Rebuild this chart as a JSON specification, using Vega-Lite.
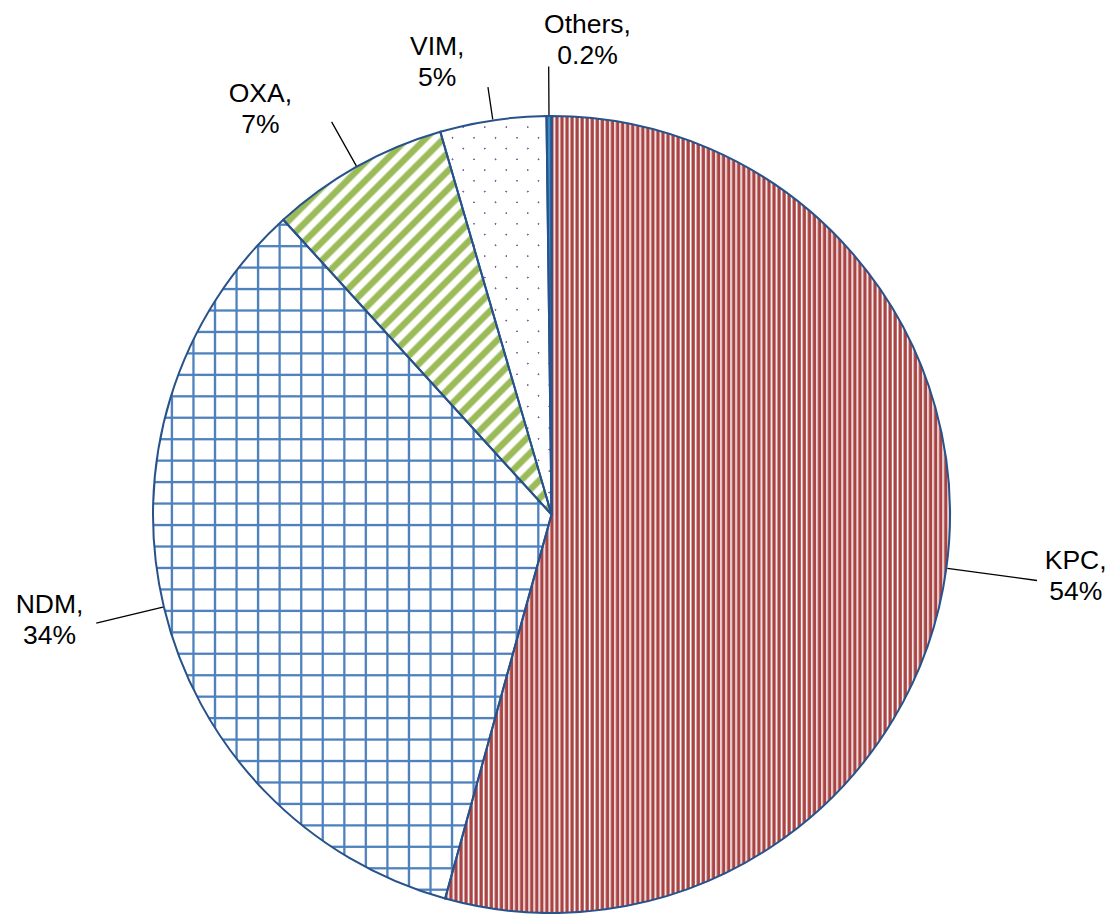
{
"$schema": "https://vega.github.io/schema/vega-lite/v6.json",
"width": 1103, "height": 799,
"padding": {"left": 0, "top": 115, "right": 10, "bottom": 0},
"autosize": {"type": "none"},
"background": "white",
"config": {"view": {"stroke": null}},
"data": {"values": [
{"type": "KPC", "value": 54.3, "order": 1, "label": "KPC,\n54%"},
{"type": "NDM", "value": 33.95, "order": 2, "label": "NDM,\n34%"},
{"type": "OXA", "value": 7.25, "order": 3, "label": "OXA,\n7%"},
{"type": "VIM", "value": 4.3, "order": 4, "label": "VIM,\n5%"},
{"type": "Others", "value": 0.2, "order": 5, "label": "Others,\n0.2%"}
]},
"transform": [
{"stack": "value", "groupby": [], "sort": [{"field": "order", "order": "ascending"}], "as": ["v0", "v1"]},
{"calculate": "(datum.v0 + datum.v1) / 2", "as": "mid"}
],
"layer": [
{"transform": [{"filter": "datum.type === 'KPC'"}],
 "mark": {"type": "arc", "radius": 398.5, "fill": {"gradient": "linear", "x1": 0, "y1": 0, "x2": 1, "y2": 0, "stops": [
{"offset":0,"color":"#a44"},{"offset":0.0035,"color":"#a44"},{"offset":0.006,"color":"#fff"},
{"offset":0.01,"color":"#a44"},{"offset":0.0135,"color":"#a44"},{"offset":0.016,"color":"#fff"},
{"offset":0.02,"color":"#a44"},{"offset":0.0235,"color":"#a44"},{"offset":0.026,"color":"#fff"},
{"offset":0.03,"color":"#a44"},{"offset":0.0335,"color":"#a44"},{"offset":0.036,"color":"#fff"},
{"offset":0.04,"color":"#a44"},{"offset":0.0435,"color":"#a44"},{"offset":0.046,"color":"#fff"},
{"offset":0.05,"color":"#a44"},{"offset":0.0535,"color":"#a44"},{"offset":0.056,"color":"#fff"},
{"offset":0.06,"color":"#a44"},{"offset":0.0635,"color":"#a44"},{"offset":0.066,"color":"#fff"},
{"offset":0.07,"color":"#a44"},{"offset":0.0735,"color":"#a44"},{"offset":0.076,"color":"#fff"},
{"offset":0.08,"color":"#a44"},{"offset":0.0835,"color":"#a44"},{"offset":0.086,"color":"#fff"},
{"offset":0.09,"color":"#a44"},{"offset":0.0935,"color":"#a44"},{"offset":0.096,"color":"#fff"},
{"offset":0.1,"color":"#a44"},{"offset":0.1035,"color":"#a44"},{"offset":0.106,"color":"#fff"},
{"offset":0.11,"color":"#a44"},{"offset":0.1135,"color":"#a44"},{"offset":0.116,"color":"#fff"},
{"offset":0.12,"color":"#a44"},{"offset":0.1235,"color":"#a44"},{"offset":0.126,"color":"#fff"},
{"offset":0.13,"color":"#a44"},{"offset":0.1335,"color":"#a44"},{"offset":0.136,"color":"#fff"},
{"offset":0.14,"color":"#a44"},{"offset":0.1435,"color":"#a44"},{"offset":0.146,"color":"#fff"},
{"offset":0.15,"color":"#a44"},{"offset":0.1535,"color":"#a44"},{"offset":0.156,"color":"#fff"},
{"offset":0.16,"color":"#a44"},{"offset":0.1635,"color":"#a44"},{"offset":0.166,"color":"#fff"},
{"offset":0.17,"color":"#a44"},{"offset":0.1735,"color":"#a44"},{"offset":0.176,"color":"#fff"},
{"offset":0.18,"color":"#a44"},{"offset":0.1835,"color":"#a44"},{"offset":0.186,"color":"#fff"},
{"offset":0.19,"color":"#a44"},{"offset":0.1935,"color":"#a44"},{"offset":0.196,"color":"#fff"},
{"offset":0.2,"color":"#a44"},{"offset":0.2035,"color":"#a44"},{"offset":0.206,"color":"#fff"},
{"offset":0.21,"color":"#a44"},{"offset":0.2135,"color":"#a44"},{"offset":0.216,"color":"#fff"},
{"offset":0.22,"color":"#a44"},{"offset":0.2235,"color":"#a44"},{"offset":0.226,"color":"#fff"},
{"offset":0.23,"color":"#a44"},{"offset":0.2335,"color":"#a44"},{"offset":0.236,"color":"#fff"},
{"offset":0.24,"color":"#a44"},{"offset":0.2435,"color":"#a44"},{"offset":0.246,"color":"#fff"},
{"offset":0.25,"color":"#a44"},{"offset":0.2535,"color":"#a44"},{"offset":0.256,"color":"#fff"},
{"offset":0.26,"color":"#a44"},{"offset":0.2635,"color":"#a44"},{"offset":0.266,"color":"#fff"},
{"offset":0.27,"color":"#a44"},{"offset":0.2735,"color":"#a44"},{"offset":0.276,"color":"#fff"},
{"offset":0.28,"color":"#a44"},{"offset":0.2835,"color":"#a44"},{"offset":0.286,"color":"#fff"},
{"offset":0.29,"color":"#a44"},{"offset":0.2935,"color":"#a44"},{"offset":0.296,"color":"#fff"},
{"offset":0.3,"color":"#a44"},{"offset":0.3035,"color":"#a44"},{"offset":0.306,"color":"#fff"},
{"offset":0.31,"color":"#a44"},{"offset":0.3135,"color":"#a44"},{"offset":0.316,"color":"#fff"},
{"offset":0.32,"color":"#a44"},{"offset":0.3235,"color":"#a44"},{"offset":0.326,"color":"#fff"},
{"offset":0.33,"color":"#a44"},{"offset":0.3335,"color":"#a44"},{"offset":0.336,"color":"#fff"},
{"offset":0.34,"color":"#a44"},{"offset":0.3435,"color":"#a44"},{"offset":0.346,"color":"#fff"},
{"offset":0.35,"color":"#a44"},{"offset":0.3535,"color":"#a44"},{"offset":0.356,"color":"#fff"},
{"offset":0.36,"color":"#a44"},{"offset":0.3635,"color":"#a44"},{"offset":0.366,"color":"#fff"},
{"offset":0.37,"color":"#a44"},{"offset":0.3735,"color":"#a44"},{"offset":0.376,"color":"#fff"},
{"offset":0.38,"color":"#a44"},{"offset":0.3835,"color":"#a44"},{"offset":0.386,"color":"#fff"},
{"offset":0.39,"color":"#a44"},{"offset":0.3935,"color":"#a44"},{"offset":0.396,"color":"#fff"},
{"offset":0.4,"color":"#a44"},{"offset":0.4035,"color":"#a44"},{"offset":0.406,"color":"#fff"},
{"offset":0.41,"color":"#a44"},{"offset":0.4135,"color":"#a44"},{"offset":0.416,"color":"#fff"},
{"offset":0.42,"color":"#a44"},{"offset":0.4235,"color":"#a44"},{"offset":0.426,"color":"#fff"},
{"offset":0.43,"color":"#a44"},{"offset":0.4335,"color":"#a44"},{"offset":0.436,"color":"#fff"},
{"offset":0.44,"color":"#a44"},{"offset":0.4435,"color":"#a44"},{"offset":0.446,"color":"#fff"},
{"offset":0.45,"color":"#a44"},{"offset":0.4535,"color":"#a44"},{"offset":0.456,"color":"#fff"},
{"offset":0.46,"color":"#a44"},{"offset":0.4635,"color":"#a44"},{"offset":0.466,"color":"#fff"},
{"offset":0.47,"color":"#a44"},{"offset":0.4735,"color":"#a44"},{"offset":0.476,"color":"#fff"},
{"offset":0.48,"color":"#a44"},{"offset":0.4835,"color":"#a44"},{"offset":0.486,"color":"#fff"},
{"offset":0.49,"color":"#a44"},{"offset":0.4935,"color":"#a44"},{"offset":0.496,"color":"#fff"},
{"offset":0.5,"color":"#a44"},{"offset":0.5035,"color":"#a44"},{"offset":0.506,"color":"#fff"},
{"offset":0.51,"color":"#a44"},{"offset":0.5135,"color":"#a44"},{"offset":0.516,"color":"#fff"},
{"offset":0.52,"color":"#a44"},{"offset":0.5235,"color":"#a44"},{"offset":0.526,"color":"#fff"},
{"offset":0.53,"color":"#a44"},{"offset":0.5335,"color":"#a44"},{"offset":0.536,"color":"#fff"},
{"offset":0.54,"color":"#a44"},{"offset":0.5435,"color":"#a44"},{"offset":0.546,"color":"#fff"},
{"offset":0.55,"color":"#a44"},{"offset":0.5535,"color":"#a44"},{"offset":0.556,"color":"#fff"},
{"offset":0.56,"color":"#a44"},{"offset":0.5635,"color":"#a44"},{"offset":0.566,"color":"#fff"},
{"offset":0.57,"color":"#a44"},{"offset":0.5735,"color":"#a44"},{"offset":0.576,"color":"#fff"},
{"offset":0.58,"color":"#a44"},{"offset":0.5835,"color":"#a44"},{"offset":0.586,"color":"#fff"},
{"offset":0.59,"color":"#a44"},{"offset":0.5935,"color":"#a44"},{"offset":0.596,"color":"#fff"},
{"offset":0.6,"color":"#a44"},{"offset":0.6035,"color":"#a44"},{"offset":0.606,"color":"#fff"},
{"offset":0.61,"color":"#a44"},{"offset":0.6135,"color":"#a44"},{"offset":0.616,"color":"#fff"},
{"offset":0.62,"color":"#a44"},{"offset":0.6235,"color":"#a44"},{"offset":0.626,"color":"#fff"},
{"offset":0.63,"color":"#a44"},{"offset":0.6335,"color":"#a44"},{"offset":0.636,"color":"#fff"},
{"offset":0.64,"color":"#a44"},{"offset":0.6435,"color":"#a44"},{"offset":0.646,"color":"#fff"},
{"offset":0.65,"color":"#a44"},{"offset":0.6535,"color":"#a44"},{"offset":0.656,"color":"#fff"},
{"offset":0.66,"color":"#a44"},{"offset":0.6635,"color":"#a44"},{"offset":0.666,"color":"#fff"},
{"offset":0.67,"color":"#a44"},{"offset":0.6735,"color":"#a44"},{"offset":0.676,"color":"#fff"},
{"offset":0.68,"color":"#a44"},{"offset":0.6835,"color":"#a44"},{"offset":0.686,"color":"#fff"},
{"offset":0.69,"color":"#a44"},{"offset":0.6935,"color":"#a44"},{"offset":0.696,"color":"#fff"},
{"offset":0.7,"color":"#a44"},{"offset":0.7035,"color":"#a44"},{"offset":0.706,"color":"#fff"},
{"offset":0.71,"color":"#a44"},{"offset":0.7135,"color":"#a44"},{"offset":0.716,"color":"#fff"},
{"offset":0.72,"color":"#a44"},{"offset":0.7235,"color":"#a44"},{"offset":0.726,"color":"#fff"},
{"offset":0.73,"color":"#a44"},{"offset":0.7335,"color":"#a44"},{"offset":0.736,"color":"#fff"},
{"offset":0.74,"color":"#a44"},{"offset":0.7435,"color":"#a44"},{"offset":0.746,"color":"#fff"},
{"offset":0.75,"color":"#a44"},{"offset":0.7535,"color":"#a44"},{"offset":0.756,"color":"#fff"},
{"offset":0.76,"color":"#a44"},{"offset":0.7635,"color":"#a44"},{"offset":0.766,"color":"#fff"},
{"offset":0.77,"color":"#a44"},{"offset":0.7735,"color":"#a44"},{"offset":0.776,"color":"#fff"},
{"offset":0.78,"color":"#a44"},{"offset":0.7835,"color":"#a44"},{"offset":0.786,"color":"#fff"},
{"offset":0.79,"color":"#a44"},{"offset":0.7935,"color":"#a44"},{"offset":0.796,"color":"#fff"},
{"offset":0.8,"color":"#a44"},{"offset":0.8035,"color":"#a44"},{"offset":0.806,"color":"#fff"},
{"offset":0.81,"color":"#a44"},{"offset":0.8135,"color":"#a44"},{"offset":0.816,"color":"#fff"},
{"offset":0.82,"color":"#a44"},{"offset":0.8235,"color":"#a44"},{"offset":0.826,"color":"#fff"},
{"offset":0.83,"color":"#a44"},{"offset":0.8335,"color":"#a44"},{"offset":0.836,"color":"#fff"},
{"offset":0.84,"color":"#a44"},{"offset":0.8435,"color":"#a44"},{"offset":0.846,"color":"#fff"},
{"offset":0.85,"color":"#a44"},{"offset":0.8535,"color":"#a44"},{"offset":0.856,"color":"#fff"},
{"offset":0.86,"color":"#a44"},{"offset":0.8635,"color":"#a44"},{"offset":0.866,"color":"#fff"},
{"offset":0.87,"color":"#a44"},{"offset":0.8735,"color":"#a44"},{"offset":0.876,"color":"#fff"},
{"offset":0.88,"color":"#a44"},{"offset":0.8835,"color":"#a44"},{"offset":0.886,"color":"#fff"},
{"offset":0.89,"color":"#a44"},{"offset":0.8935,"color":"#a44"},{"offset":0.896,"color":"#fff"},
{"offset":0.9,"color":"#a44"},{"offset":0.9035,"color":"#a44"},{"offset":0.906,"color":"#fff"},
{"offset":0.91,"color":"#a44"},{"offset":0.9135,"color":"#a44"},{"offset":0.916,"color":"#fff"},
{"offset":0.92,"color":"#a44"},{"offset":0.9235,"color":"#a44"},{"offset":0.926,"color":"#fff"},
{"offset":0.93,"color":"#a44"},{"offset":0.9335,"color":"#a44"},{"offset":0.936,"color":"#fff"},
{"offset":0.94,"color":"#a44"},{"offset":0.9435,"color":"#a44"},{"offset":0.946,"color":"#fff"},
{"offset":0.95,"color":"#a44"},{"offset":0.9535,"color":"#a44"},{"offset":0.956,"color":"#fff"},
{"offset":0.96,"color":"#a44"},{"offset":0.9635,"color":"#a44"},{"offset":0.966,"color":"#fff"},
{"offset":0.97,"color":"#a44"},{"offset":0.9735,"color":"#a44"},{"offset":0.976,"color":"#fff"},
{"offset":0.98,"color":"#a44"},{"offset":0.9835,"color":"#a44"},{"offset":0.986,"color":"#fff"},
{"offset":0.99,"color":"#a44"},{"offset":0.9935,"color":"#a44"},{"offset":0.996,"color":"#fff"},
{"offset":1,"color":"#a44"}
 ]}},
 "encoding": {"theta": {"field": "v0", "type": "quantitative", "scale": {"domain": [0, 100]}}, "theta2": {"field": "v1"}}},
{"transform": [{"filter": "datum.type === 'NDM'"}],
 "mark": {"type": "arc", "radius": 398.5, "fill": {"gradient": "linear", "x1": 0, "y1": 0, "x2": 1, "y2": 0, "stops": [
{"offset":0,"color":"#fff"},
{"offset":0.0431,"color":"#fff"},{"offset":0.0459,"color":"#4f81bd"},{"offset":0.0489,"color":"#4f81bd"},{"offset":0.0517,"color":"#fff"},
{"offset":0.0972,"color":"#fff"},{"offset":0.1000,"color":"#4f81bd"},{"offset":0.1030,"color":"#4f81bd"},{"offset":0.1058,"color":"#fff"},
{"offset":0.1513,"color":"#fff"},{"offset":0.1541,"color":"#4f81bd"},{"offset":0.1571,"color":"#4f81bd"},{"offset":0.1599,"color":"#fff"},
{"offset":0.2054,"color":"#fff"},{"offset":0.2082,"color":"#4f81bd"},{"offset":0.2112,"color":"#4f81bd"},{"offset":0.2140,"color":"#fff"},
{"offset":0.2594,"color":"#fff"},{"offset":0.2622,"color":"#4f81bd"},{"offset":0.2652,"color":"#4f81bd"},{"offset":0.2680,"color":"#fff"},
{"offset":0.3135,"color":"#fff"},{"offset":0.3163,"color":"#4f81bd"},{"offset":0.3193,"color":"#4f81bd"},{"offset":0.3221,"color":"#fff"},
{"offset":0.3676,"color":"#fff"},{"offset":0.3704,"color":"#4f81bd"},{"offset":0.3734,"color":"#4f81bd"},{"offset":0.3762,"color":"#fff"},
{"offset":0.4217,"color":"#fff"},{"offset":0.4245,"color":"#4f81bd"},{"offset":0.4275,"color":"#4f81bd"},{"offset":0.4303,"color":"#fff"},
{"offset":0.4758,"color":"#fff"},{"offset":0.4786,"color":"#4f81bd"},{"offset":0.4816,"color":"#4f81bd"},{"offset":0.4844,"color":"#fff"},
{"offset":0.5298,"color":"#fff"},{"offset":0.5326,"color":"#4f81bd"},{"offset":0.5356,"color":"#4f81bd"},{"offset":0.5384,"color":"#fff"},
{"offset":0.5839,"color":"#fff"},{"offset":0.5867,"color":"#4f81bd"},{"offset":0.5897,"color":"#4f81bd"},{"offset":0.5925,"color":"#fff"},
{"offset":0.6380,"color":"#fff"},{"offset":0.6408,"color":"#4f81bd"},{"offset":0.6438,"color":"#4f81bd"},{"offset":0.6466,"color":"#fff"},
{"offset":0.6921,"color":"#fff"},{"offset":0.6949,"color":"#4f81bd"},{"offset":0.6979,"color":"#4f81bd"},{"offset":0.7007,"color":"#fff"},
{"offset":0.7461,"color":"#fff"},{"offset":0.7489,"color":"#4f81bd"},{"offset":0.7519,"color":"#4f81bd"},{"offset":0.7547,"color":"#fff"},
{"offset":0.8002,"color":"#fff"},{"offset":0.8030,"color":"#4f81bd"},{"offset":0.8060,"color":"#4f81bd"},{"offset":0.8088,"color":"#fff"},
{"offset":0.8543,"color":"#fff"},{"offset":0.8571,"color":"#4f81bd"},{"offset":0.8601,"color":"#4f81bd"},{"offset":0.8629,"color":"#fff"},
{"offset":0.9084,"color":"#fff"},{"offset":0.9112,"color":"#4f81bd"},{"offset":0.9142,"color":"#4f81bd"},{"offset":0.9170,"color":"#fff"},
{"offset":0.9625,"color":"#fff"},{"offset":0.9653,"color":"#4f81bd"},{"offset":0.9683,"color":"#4f81bd"},{"offset":0.9711,"color":"#fff"},
{"offset":1,"color":"#fff"}
 ]}},
 "encoding": {"theta": {"field": "v0", "type": "quantitative", "scale": {"domain": [0, 100]}}, "theta2": {"field": "v1"}}},
{"transform": [{"filter": "datum.type === 'NDM'"}],
 "mark": {"type": "arc", "radius": 398.5, "fill": {"gradient": "linear", "x1": 0, "y1": 0, "x2": 0, "y2": 1, "stops": [
{"offset":0,"color":"rgba(79,129,189,0)"},
{"offset":0.0048,"color":"rgba(79,129,189,0)"},{"offset":0.0064,"color":"#4f81bd"},{"offset":0.0082,"color":"#4f81bd"},{"offset":0.0098,"color":"rgba(79,129,189,0)"},
{"offset":0.0364,"color":"rgba(79,129,189,0)"},{"offset":0.0380,"color":"#4f81bd"},{"offset":0.0398,"color":"#4f81bd"},{"offset":0.0414,"color":"rgba(79,129,189,0)"},
{"offset":0.0680,"color":"rgba(79,129,189,0)"},{"offset":0.0696,"color":"#4f81bd"},{"offset":0.0714,"color":"#4f81bd"},{"offset":0.0730,"color":"rgba(79,129,189,0)"},
{"offset":0.0996,"color":"rgba(79,129,189,0)"},{"offset":0.1012,"color":"#4f81bd"},{"offset":0.1030,"color":"#4f81bd"},{"offset":0.1046,"color":"rgba(79,129,189,0)"},
{"offset":0.1312,"color":"rgba(79,129,189,0)"},{"offset":0.1328,"color":"#4f81bd"},{"offset":0.1346,"color":"#4f81bd"},{"offset":0.1362,"color":"rgba(79,129,189,0)"},
{"offset":0.1628,"color":"rgba(79,129,189,0)"},{"offset":0.1644,"color":"#4f81bd"},{"offset":0.1662,"color":"#4f81bd"},{"offset":0.1678,"color":"rgba(79,129,189,0)"},
{"offset":0.1944,"color":"rgba(79,129,189,0)"},{"offset":0.1960,"color":"#4f81bd"},{"offset":0.1978,"color":"#4f81bd"},{"offset":0.1994,"color":"rgba(79,129,189,0)"},
{"offset":0.2260,"color":"rgba(79,129,189,0)"},{"offset":0.2276,"color":"#4f81bd"},{"offset":0.2294,"color":"#4f81bd"},{"offset":0.2310,"color":"rgba(79,129,189,0)"},
{"offset":0.2576,"color":"rgba(79,129,189,0)"},{"offset":0.2592,"color":"#4f81bd"},{"offset":0.2610,"color":"#4f81bd"},{"offset":0.2626,"color":"rgba(79,129,189,0)"},
{"offset":0.2892,"color":"rgba(79,129,189,0)"},{"offset":0.2908,"color":"#4f81bd"},{"offset":0.2926,"color":"#4f81bd"},{"offset":0.2942,"color":"rgba(79,129,189,0)"},
{"offset":0.3208,"color":"rgba(79,129,189,0)"},{"offset":0.3224,"color":"#4f81bd"},{"offset":0.3242,"color":"#4f81bd"},{"offset":0.3258,"color":"rgba(79,129,189,0)"},
{"offset":0.3524,"color":"rgba(79,129,189,0)"},{"offset":0.3540,"color":"#4f81bd"},{"offset":0.3558,"color":"#4f81bd"},{"offset":0.3574,"color":"rgba(79,129,189,0)"},
{"offset":0.3840,"color":"rgba(79,129,189,0)"},{"offset":0.3856,"color":"#4f81bd"},{"offset":0.3874,"color":"#4f81bd"},{"offset":0.3890,"color":"rgba(79,129,189,0)"},
{"offset":0.4156,"color":"rgba(79,129,189,0)"},{"offset":0.4172,"color":"#4f81bd"},{"offset":0.4190,"color":"#4f81bd"},{"offset":0.4206,"color":"rgba(79,129,189,0)"},
{"offset":0.4473,"color":"rgba(79,129,189,0)"},{"offset":0.4489,"color":"#4f81bd"},{"offset":0.4507,"color":"#4f81bd"},{"offset":0.4523,"color":"rgba(79,129,189,0)"},
{"offset":0.4789,"color":"rgba(79,129,189,0)"},{"offset":0.4805,"color":"#4f81bd"},{"offset":0.4823,"color":"#4f81bd"},{"offset":0.4839,"color":"rgba(79,129,189,0)"},
{"offset":0.5105,"color":"rgba(79,129,189,0)"},{"offset":0.5121,"color":"#4f81bd"},{"offset":0.5139,"color":"#4f81bd"},{"offset":0.5155,"color":"rgba(79,129,189,0)"},
{"offset":0.5421,"color":"rgba(79,129,189,0)"},{"offset":0.5437,"color":"#4f81bd"},{"offset":0.5455,"color":"#4f81bd"},{"offset":0.5471,"color":"rgba(79,129,189,0)"},
{"offset":0.5737,"color":"rgba(79,129,189,0)"},{"offset":0.5753,"color":"#4f81bd"},{"offset":0.5771,"color":"#4f81bd"},{"offset":0.5787,"color":"rgba(79,129,189,0)"},
{"offset":0.6053,"color":"rgba(79,129,189,0)"},{"offset":0.6069,"color":"#4f81bd"},{"offset":0.6087,"color":"#4f81bd"},{"offset":0.6103,"color":"rgba(79,129,189,0)"},
{"offset":0.6369,"color":"rgba(79,129,189,0)"},{"offset":0.6385,"color":"#4f81bd"},{"offset":0.6403,"color":"#4f81bd"},{"offset":0.6419,"color":"rgba(79,129,189,0)"},
{"offset":0.6685,"color":"rgba(79,129,189,0)"},{"offset":0.6701,"color":"#4f81bd"},{"offset":0.6719,"color":"#4f81bd"},{"offset":0.6735,"color":"rgba(79,129,189,0)"},
{"offset":0.7001,"color":"rgba(79,129,189,0)"},{"offset":0.7017,"color":"#4f81bd"},{"offset":0.7035,"color":"#4f81bd"},{"offset":0.7051,"color":"rgba(79,129,189,0)"},
{"offset":0.7317,"color":"rgba(79,129,189,0)"},{"offset":0.7333,"color":"#4f81bd"},{"offset":0.7351,"color":"#4f81bd"},{"offset":0.7367,"color":"rgba(79,129,189,0)"},
{"offset":0.7633,"color":"rgba(79,129,189,0)"},{"offset":0.7649,"color":"#4f81bd"},{"offset":0.7667,"color":"#4f81bd"},{"offset":0.7683,"color":"rgba(79,129,189,0)"},
{"offset":0.7949,"color":"rgba(79,129,189,0)"},{"offset":0.7965,"color":"#4f81bd"},{"offset":0.7983,"color":"#4f81bd"},{"offset":0.7999,"color":"rgba(79,129,189,0)"},
{"offset":0.8265,"color":"rgba(79,129,189,0)"},{"offset":0.8281,"color":"#4f81bd"},{"offset":0.8299,"color":"#4f81bd"},{"offset":0.8315,"color":"rgba(79,129,189,0)"},
{"offset":0.8581,"color":"rgba(79,129,189,0)"},{"offset":0.8597,"color":"#4f81bd"},{"offset":0.8615,"color":"#4f81bd"},{"offset":0.8631,"color":"rgba(79,129,189,0)"},
{"offset":0.8897,"color":"rgba(79,129,189,0)"},{"offset":0.8913,"color":"#4f81bd"},{"offset":0.8931,"color":"#4f81bd"},{"offset":0.8947,"color":"rgba(79,129,189,0)"},
{"offset":0.9213,"color":"rgba(79,129,189,0)"},{"offset":0.9229,"color":"#4f81bd"},{"offset":0.9247,"color":"#4f81bd"},{"offset":0.9263,"color":"rgba(79,129,189,0)"},
{"offset":0.9529,"color":"rgba(79,129,189,0)"},{"offset":0.9545,"color":"#4f81bd"},{"offset":0.9563,"color":"#4f81bd"},{"offset":0.9579,"color":"rgba(79,129,189,0)"},
{"offset":0.9845,"color":"rgba(79,129,189,0)"},{"offset":0.9861,"color":"#4f81bd"},{"offset":0.9879,"color":"#4f81bd"},{"offset":0.9895,"color":"rgba(79,129,189,0)"},
{"offset":1,"color":"rgba(79,129,189,0)"}
 ]}},
 "encoding": {"theta": {"field": "v0", "type": "quantitative", "scale": {"domain": [0, 100]}}, "theta2": {"field": "v1"}}},
{"transform": [{"filter": "datum.type === 'OXA'"}],
 "mark": {"type": "arc", "radius": 398.5, "fill": {"gradient": "linear", "x1": 0, "y1": 0, "x2": 0.7993, "y2": 1.1406, "stops": [
{"offset":0,"color":"#9bbb59"},{"offset":0.0098,"color":"#9bbb59"},{"offset":0.014,"color":"#fff"},{"offset":0.0238,"color":"#fff"},
{"offset":0.028,"color":"#9bbb59"},{"offset":0.0378,"color":"#9bbb59"},{"offset":0.042,"color":"#fff"},{"offset":0.0518,"color":"#fff"},
{"offset":0.056,"color":"#9bbb59"},{"offset":0.0658,"color":"#9bbb59"},{"offset":0.07,"color":"#fff"},{"offset":0.0798,"color":"#fff"},
{"offset":0.084,"color":"#9bbb59"},{"offset":0.0938,"color":"#9bbb59"},{"offset":0.098,"color":"#fff"},{"offset":0.1078,"color":"#fff"},
{"offset":0.112,"color":"#9bbb59"},{"offset":0.1218,"color":"#9bbb59"},{"offset":0.126,"color":"#fff"},{"offset":0.1358,"color":"#fff"},
{"offset":0.14,"color":"#9bbb59"},{"offset":0.1498,"color":"#9bbb59"},{"offset":0.154,"color":"#fff"},{"offset":0.1638,"color":"#fff"},
{"offset":0.168,"color":"#9bbb59"},{"offset":0.1778,"color":"#9bbb59"},{"offset":0.182,"color":"#fff"},{"offset":0.1918,"color":"#fff"},
{"offset":0.196,"color":"#9bbb59"},{"offset":0.2058,"color":"#9bbb59"},{"offset":0.21,"color":"#fff"},{"offset":0.2198,"color":"#fff"},
{"offset":0.224,"color":"#9bbb59"},{"offset":0.2338,"color":"#9bbb59"},{"offset":0.238,"color":"#fff"},{"offset":0.2478,"color":"#fff"},
{"offset":0.252,"color":"#9bbb59"},{"offset":0.2618,"color":"#9bbb59"},{"offset":0.266,"color":"#fff"},{"offset":0.2758,"color":"#fff"},
{"offset":0.28,"color":"#9bbb59"},{"offset":0.2898,"color":"#9bbb59"},{"offset":0.294,"color":"#fff"},{"offset":0.3038,"color":"#fff"},
{"offset":0.308,"color":"#9bbb59"},{"offset":0.3178,"color":"#9bbb59"},{"offset":0.322,"color":"#fff"},{"offset":0.3318,"color":"#fff"},
{"offset":0.336,"color":"#9bbb59"},{"offset":0.3458,"color":"#9bbb59"},{"offset":0.35,"color":"#fff"},{"offset":0.3598,"color":"#fff"},
{"offset":0.364,"color":"#9bbb59"},{"offset":0.3738,"color":"#9bbb59"},{"offset":0.378,"color":"#fff"},{"offset":0.3878,"color":"#fff"},
{"offset":0.392,"color":"#9bbb59"},{"offset":0.4018,"color":"#9bbb59"},{"offset":0.406,"color":"#fff"},{"offset":0.4158,"color":"#fff"},
{"offset":0.42,"color":"#9bbb59"},{"offset":0.4298,"color":"#9bbb59"},{"offset":0.434,"color":"#fff"},{"offset":0.4438,"color":"#fff"},
{"offset":0.448,"color":"#9bbb59"},{"offset":0.4578,"color":"#9bbb59"},{"offset":0.462,"color":"#fff"},{"offset":0.4718,"color":"#fff"},
{"offset":0.476,"color":"#9bbb59"},{"offset":0.4858,"color":"#9bbb59"},{"offset":0.49,"color":"#fff"},{"offset":0.4998,"color":"#fff"},
{"offset":0.504,"color":"#9bbb59"},{"offset":0.5138,"color":"#9bbb59"},{"offset":0.518,"color":"#fff"},{"offset":0.5278,"color":"#fff"},
{"offset":0.532,"color":"#9bbb59"},{"offset":0.5418,"color":"#9bbb59"},{"offset":0.546,"color":"#fff"},{"offset":0.5558,"color":"#fff"},
{"offset":0.56,"color":"#9bbb59"},{"offset":0.5698,"color":"#9bbb59"},{"offset":0.574,"color":"#fff"},{"offset":0.5838,"color":"#fff"},
{"offset":0.588,"color":"#9bbb59"},{"offset":0.5978,"color":"#9bbb59"},{"offset":0.602,"color":"#fff"},{"offset":0.6118,"color":"#fff"},
{"offset":0.616,"color":"#9bbb59"},{"offset":0.6258,"color":"#9bbb59"},{"offset":0.63,"color":"#fff"},{"offset":0.6398,"color":"#fff"},
{"offset":0.644,"color":"#9bbb59"},{"offset":0.6538,"color":"#9bbb59"},{"offset":0.658,"color":"#fff"},{"offset":0.6678,"color":"#fff"},
{"offset":0.672,"color":"#9bbb59"},{"offset":0.6818,"color":"#9bbb59"},{"offset":0.686,"color":"#fff"},{"offset":0.6958,"color":"#fff"},
{"offset":0.7,"color":"#9bbb59"},{"offset":0.7098,"color":"#9bbb59"},{"offset":0.714,"color":"#fff"},{"offset":0.7238,"color":"#fff"},
{"offset":0.728,"color":"#9bbb59"},{"offset":0.7378,"color":"#9bbb59"},{"offset":0.742,"color":"#fff"},{"offset":0.7518,"color":"#fff"},
{"offset":0.756,"color":"#9bbb59"},{"offset":0.7658,"color":"#9bbb59"},{"offset":0.77,"color":"#fff"},{"offset":0.7798,"color":"#fff"},
{"offset":0.784,"color":"#9bbb59"},{"offset":0.7938,"color":"#9bbb59"},{"offset":0.798,"color":"#fff"},{"offset":0.8078,"color":"#fff"},
{"offset":0.812,"color":"#9bbb59"},{"offset":0.8218,"color":"#9bbb59"},{"offset":0.826,"color":"#fff"},{"offset":0.8358,"color":"#fff"},
{"offset":0.84,"color":"#9bbb59"},{"offset":0.8498,"color":"#9bbb59"},{"offset":0.854,"color":"#fff"},{"offset":0.8638,"color":"#fff"},
{"offset":0.868,"color":"#9bbb59"},{"offset":0.8778,"color":"#9bbb59"},{"offset":0.882,"color":"#fff"},{"offset":0.8918,"color":"#fff"},
{"offset":0.896,"color":"#9bbb59"},{"offset":0.9058,"color":"#9bbb59"},{"offset":0.91,"color":"#fff"},{"offset":0.9198,"color":"#fff"},
{"offset":0.924,"color":"#9bbb59"},{"offset":0.9338,"color":"#9bbb59"},{"offset":0.938,"color":"#fff"},{"offset":0.9478,"color":"#fff"},
{"offset":0.952,"color":"#9bbb59"},{"offset":0.9618,"color":"#9bbb59"},{"offset":0.966,"color":"#fff"},{"offset":0.9758,"color":"#fff"},
{"offset":0.98,"color":"#9bbb59"},{"offset":0.9898,"color":"#9bbb59"},{"offset":0.994,"color":"#fff"},{"offset":1,"color":"#fff"}
 ]}},
 "encoding": {"theta": {"field": "v0", "type": "quantitative", "scale": {"domain": [0, 100]}}, "theta2": {"field": "v1"}}},
{"transform": [{"filter": "datum.type === 'VIM'"}],
 "mark": {"type": "arc", "radius": 398.5, "fill": {"gradient": "linear", "x1": 0, "y1": 0, "x2": 0.3311, "y2": 1.1867, "stops": [
{"offset":0,"color":"#fff"},
{"offset":0.0214,"color":"#fff"},{"offset":0.0231,"color":"#8064a2"},{"offset":0.0259,"color":"#8064a2"},{"offset":0.0276,"color":"#fff"},
{"offset":0.0636,"color":"#fff"},{"offset":0.0653,"color":"#8064a2"},{"offset":0.0681,"color":"#8064a2"},{"offset":0.0698,"color":"#fff"},
{"offset":0.1058,"color":"#fff"},{"offset":0.1075,"color":"#8064a2"},{"offset":0.1103,"color":"#8064a2"},{"offset":0.1120,"color":"#fff"},
{"offset":0.1480,"color":"#fff"},{"offset":0.1497,"color":"#8064a2"},{"offset":0.1525,"color":"#8064a2"},{"offset":0.1542,"color":"#fff"},
{"offset":0.1902,"color":"#fff"},{"offset":0.1919,"color":"#8064a2"},{"offset":0.1947,"color":"#8064a2"},{"offset":0.1964,"color":"#fff"},
{"offset":0.2323,"color":"#fff"},{"offset":0.2340,"color":"#8064a2"},{"offset":0.2368,"color":"#8064a2"},{"offset":0.2385,"color":"#fff"},
{"offset":0.2745,"color":"#fff"},{"offset":0.2762,"color":"#8064a2"},{"offset":0.2790,"color":"#8064a2"},{"offset":0.2807,"color":"#fff"},
{"offset":0.3167,"color":"#fff"},{"offset":0.3184,"color":"#8064a2"},{"offset":0.3212,"color":"#8064a2"},{"offset":0.3229,"color":"#fff"},
{"offset":0.3589,"color":"#fff"},{"offset":0.3606,"color":"#8064a2"},{"offset":0.3634,"color":"#8064a2"},{"offset":0.3651,"color":"#fff"},
{"offset":0.4011,"color":"#fff"},{"offset":0.4028,"color":"#8064a2"},{"offset":0.4056,"color":"#8064a2"},{"offset":0.4073,"color":"#fff"},
{"offset":0.4433,"color":"#fff"},{"offset":0.4450,"color":"#8064a2"},{"offset":0.4478,"color":"#8064a2"},{"offset":0.4495,"color":"#fff"},
{"offset":0.4854,"color":"#fff"},{"offset":0.4871,"color":"#8064a2"},{"offset":0.4899,"color":"#8064a2"},{"offset":0.4916,"color":"#fff"},
{"offset":0.5276,"color":"#fff"},{"offset":0.5293,"color":"#8064a2"},{"offset":0.5321,"color":"#8064a2"},{"offset":0.5338,"color":"#fff"},
{"offset":0.5698,"color":"#fff"},{"offset":0.5715,"color":"#8064a2"},{"offset":0.5743,"color":"#8064a2"},{"offset":0.5760,"color":"#fff"},
{"offset":0.6120,"color":"#fff"},{"offset":0.6137,"color":"#8064a2"},{"offset":0.6165,"color":"#8064a2"},{"offset":0.6182,"color":"#fff"},
{"offset":0.6542,"color":"#fff"},{"offset":0.6559,"color":"#8064a2"},{"offset":0.6587,"color":"#8064a2"},{"offset":0.6604,"color":"#fff"},
{"offset":0.6963,"color":"#fff"},{"offset":0.6980,"color":"#8064a2"},{"offset":0.7008,"color":"#8064a2"},{"offset":0.7025,"color":"#fff"},
{"offset":0.7385,"color":"#fff"},{"offset":0.7402,"color":"#8064a2"},{"offset":0.7430,"color":"#8064a2"},{"offset":0.7447,"color":"#fff"},
{"offset":0.7807,"color":"#fff"},{"offset":0.7824,"color":"#8064a2"},{"offset":0.7852,"color":"#8064a2"},{"offset":0.7869,"color":"#fff"},
{"offset":0.8229,"color":"#fff"},{"offset":0.8246,"color":"#8064a2"},{"offset":0.8274,"color":"#8064a2"},{"offset":0.8291,"color":"#fff"},
{"offset":0.8651,"color":"#fff"},{"offset":0.8668,"color":"#8064a2"},{"offset":0.8696,"color":"#8064a2"},{"offset":0.8713,"color":"#fff"},
{"offset":0.9073,"color":"#fff"},{"offset":0.9090,"color":"#8064a2"},{"offset":0.9118,"color":"#8064a2"},{"offset":0.9135,"color":"#fff"},
{"offset":0.9494,"color":"#fff"},{"offset":0.9511,"color":"#8064a2"},{"offset":0.9539,"color":"#8064a2"},{"offset":0.9556,"color":"#fff"},
{"offset":0.9916,"color":"#fff"},{"offset":0.9933,"color":"#8064a2"},{"offset":0.9961,"color":"#8064a2"},{"offset":0.9978,"color":"#fff"},
{"offset":1,"color":"#fff"}
 ]}},
 "encoding": {"theta": {"field": "v0", "type": "quantitative", "scale": {"domain": [0, 100]}}, "theta2": {"field": "v1"}}},
{"transform": [{"filter": "datum.type === 'VIM'"}],
 "mark": {"type": "arc", "radius": 398.5, "fill": {"gradient": "linear", "x1": 0, "y1": 1, "x2": 0.3311, "y2": -0.1867, "stops": [
{"offset":0,"color":"#fff"},
{"offset":0.0006,"color":"#fff"},{"offset":0.0023,"color":"rgba(255,255,255,0)"},{"offset":0.0051,"color":"rgba(255,255,255,0)"},{"offset":0.0068,"color":"#fff"},
{"offset":0.0428,"color":"#fff"},{"offset":0.0445,"color":"rgba(255,255,255,0)"},{"offset":0.0473,"color":"rgba(255,255,255,0)"},{"offset":0.0490,"color":"#fff"},
{"offset":0.0850,"color":"#fff"},{"offset":0.0867,"color":"rgba(255,255,255,0)"},{"offset":0.0895,"color":"rgba(255,255,255,0)"},{"offset":0.0912,"color":"#fff"},
{"offset":0.1272,"color":"#fff"},{"offset":0.1289,"color":"rgba(255,255,255,0)"},{"offset":0.1317,"color":"rgba(255,255,255,0)"},{"offset":0.1334,"color":"#fff"},
{"offset":0.1694,"color":"#fff"},{"offset":0.1711,"color":"rgba(255,255,255,0)"},{"offset":0.1739,"color":"rgba(255,255,255,0)"},{"offset":0.1756,"color":"#fff"},
{"offset":0.2115,"color":"#fff"},{"offset":0.2132,"color":"rgba(255,255,255,0)"},{"offset":0.2160,"color":"rgba(255,255,255,0)"},{"offset":0.2177,"color":"#fff"},
{"offset":0.2537,"color":"#fff"},{"offset":0.2554,"color":"rgba(255,255,255,0)"},{"offset":0.2582,"color":"rgba(255,255,255,0)"},{"offset":0.2599,"color":"#fff"},
{"offset":0.2959,"color":"#fff"},{"offset":0.2976,"color":"rgba(255,255,255,0)"},{"offset":0.3004,"color":"rgba(255,255,255,0)"},{"offset":0.3021,"color":"#fff"},
{"offset":0.3381,"color":"#fff"},{"offset":0.3398,"color":"rgba(255,255,255,0)"},{"offset":0.3426,"color":"rgba(255,255,255,0)"},{"offset":0.3443,"color":"#fff"},
{"offset":0.3803,"color":"#fff"},{"offset":0.3820,"color":"rgba(255,255,255,0)"},{"offset":0.3848,"color":"rgba(255,255,255,0)"},{"offset":0.3865,"color":"#fff"},
{"offset":0.4225,"color":"#fff"},{"offset":0.4242,"color":"rgba(255,255,255,0)"},{"offset":0.4270,"color":"rgba(255,255,255,0)"},{"offset":0.4287,"color":"#fff"},
{"offset":0.4646,"color":"#fff"},{"offset":0.4663,"color":"rgba(255,255,255,0)"},{"offset":0.4691,"color":"rgba(255,255,255,0)"},{"offset":0.4708,"color":"#fff"},
{"offset":0.5068,"color":"#fff"},{"offset":0.5085,"color":"rgba(255,255,255,0)"},{"offset":0.5113,"color":"rgba(255,255,255,0)"},{"offset":0.5130,"color":"#fff"},
{"offset":0.5490,"color":"#fff"},{"offset":0.5507,"color":"rgba(255,255,255,0)"},{"offset":0.5535,"color":"rgba(255,255,255,0)"},{"offset":0.5552,"color":"#fff"},
{"offset":0.5912,"color":"#fff"},{"offset":0.5929,"color":"rgba(255,255,255,0)"},{"offset":0.5957,"color":"rgba(255,255,255,0)"},{"offset":0.5974,"color":"#fff"},
{"offset":0.6334,"color":"#fff"},{"offset":0.6351,"color":"rgba(255,255,255,0)"},{"offset":0.6379,"color":"rgba(255,255,255,0)"},{"offset":0.6396,"color":"#fff"},
{"offset":0.6755,"color":"#fff"},{"offset":0.6772,"color":"rgba(255,255,255,0)"},{"offset":0.6800,"color":"rgba(255,255,255,0)"},{"offset":0.6817,"color":"#fff"},
{"offset":0.7177,"color":"#fff"},{"offset":0.7194,"color":"rgba(255,255,255,0)"},{"offset":0.7222,"color":"rgba(255,255,255,0)"},{"offset":0.7239,"color":"#fff"},
{"offset":0.7599,"color":"#fff"},{"offset":0.7616,"color":"rgba(255,255,255,0)"},{"offset":0.7644,"color":"rgba(255,255,255,0)"},{"offset":0.7661,"color":"#fff"},
{"offset":0.8021,"color":"#fff"},{"offset":0.8038,"color":"rgba(255,255,255,0)"},{"offset":0.8066,"color":"rgba(255,255,255,0)"},{"offset":0.8083,"color":"#fff"},
{"offset":0.8443,"color":"#fff"},{"offset":0.8460,"color":"rgba(255,255,255,0)"},{"offset":0.8488,"color":"rgba(255,255,255,0)"},{"offset":0.8505,"color":"#fff"},
{"offset":0.8865,"color":"#fff"},{"offset":0.8882,"color":"rgba(255,255,255,0)"},{"offset":0.8910,"color":"rgba(255,255,255,0)"},{"offset":0.8927,"color":"#fff"},
{"offset":0.9286,"color":"#fff"},{"offset":0.9303,"color":"rgba(255,255,255,0)"},{"offset":0.9331,"color":"rgba(255,255,255,0)"},{"offset":0.9348,"color":"#fff"},
{"offset":0.9708,"color":"#fff"},{"offset":0.9725,"color":"rgba(255,255,255,0)"},{"offset":0.9753,"color":"rgba(255,255,255,0)"},{"offset":0.9770,"color":"#fff"},
{"offset":1,"color":"#fff"}
 ]}},
 "encoding": {"theta": {"field": "v0", "type": "quantitative", "scale": {"domain": [0, 100]}}, "theta2": {"field": "v1"}}},
{"transform": [{"filter": "datum.type === 'Others'"}],
 "mark": {"type": "arc", "radius": 398.5, "fill": "#3d8bc4"},
 "encoding": {"theta": {"field": "v0", "type": "quantitative", "scale": {"domain": [0, 100]}}, "theta2": {"field": "v1"}}},
{"mark": {"type": "arc", "radius": 398.5, "fill": "transparent", "stroke": "#27528b", "strokeWidth": 2},
 "encoding": {"theta": {"field": "v0", "type": "quantitative", "scale": {"domain": [0, 100]}}, "theta2": {"field": "v1"}}},
{"transform": [{"filter": "datum.type === 'KPC'"}],
 "mark": {"type": "arc", "radius": 490, "radius2": 399.5, "fill": "transparent", "stroke": "#000", "strokeWidth": 1.3},
 "encoding": {"theta": {"field": "mid", "type": "quantitative", "scale": {"domain": [0, 100]}}, "theta2": {"field": "mid"}}},
{"transform": [{"filter": "datum.type === 'NDM'"}],
 "mark": {"type": "arc", "radius": 468, "radius2": 399.5, "fill": "transparent", "stroke": "#000", "strokeWidth": 1.3},
 "encoding": {"theta": {"field": "mid", "type": "quantitative", "scale": {"domain": [0, 100]}}, "theta2": {"field": "mid"}}},
{"transform": [{"filter": "datum.type === 'OXA'"}],
 "mark": {"type": "arc", "radius": 450, "radius2": 399.5, "fill": "transparent", "stroke": "#000", "strokeWidth": 1.3},
 "encoding": {"theta": {"field": "mid", "type": "quantitative", "scale": {"domain": [0, 100]}}, "theta2": {"field": "mid"}}},
{"transform": [{"filter": "datum.type === 'VIM'"}],
 "mark": {"type": "arc", "radius": 432, "radius2": 399.5, "fill": "transparent", "stroke": "#000", "strokeWidth": 1.3},
 "encoding": {"theta": {"field": "mid", "type": "quantitative", "scale": {"domain": [0, 100]}}, "theta2": {"field": "mid"}}},
{"transform": [{"filter": "datum.type === 'Others'"}],
 "mark": {"type": "arc", "radius": 448, "radius2": 399.5, "fill": "transparent", "stroke": "#000", "strokeWidth": 1.3},
 "encoding": {"theta": {"field": "mid", "type": "quantitative", "scale": {"domain": [0, 100]}}, "theta2": {"field": "mid"}}},
{"transform": [{"filter": "datum.type === 'KPC'"}],
 "mark": {"type": "text", "radius": 528, "dx": 1, "dy": -25, "font": "Liberation Sans", "fontSize": 26.5, "lineHeight": 31, "lineBreak": "\n", "align": "center", "baseline": "middle", "fill": "#000"},
 "encoding": {"theta": {"field": "mid", "type": "quantitative", "scale": {"domain": [0, 100]}}, "text": {"field": "label"}}},
{"transform": [{"filter": "datum.type === 'NDM'"}],
 "mark": {"type": "text", "radius": 513, "dx": -3, "dy": -28, "font": "Liberation Sans", "fontSize": 26.5, "lineHeight": 31, "lineBreak": "\n", "align": "center", "baseline": "middle", "fill": "#000"},
 "encoding": {"theta": {"field": "mid", "type": "quantitative", "scale": {"domain": [0, 100]}}, "text": {"field": "label"}}},
{"transform": [{"filter": "datum.type === 'OXA'"}],
 "mark": {"type": "text", "radius": 497.5, "dx": -48, "dy": 14, "font": "Liberation Sans", "fontSize": 26.5, "lineHeight": 31, "lineBreak": "\n", "align": "center", "baseline": "middle", "fill": "#000"},
 "encoding": {"theta": {"field": "mid", "type": "quantitative", "scale": {"domain": [0, 100]}}, "text": {"field": "label"}}},
{"transform": [{"filter": "datum.type === 'VIM'"}],
 "mark": {"type": "text", "radius": 464, "dx": -46, "dy": -9, "font": "Liberation Sans", "fontSize": 26.5, "lineHeight": 31, "lineBreak": "\n", "align": "center", "baseline": "middle", "fill": "#000"},
 "encoding": {"theta": {"field": "mid", "type": "quantitative", "scale": {"domain": [0, 100]}}, "text": {"field": "label"}}},
{"transform": [{"filter": "datum.type === 'Others'"}],
 "mark": {"type": "text", "radius": 473, "dx": 39, "dy": -17, "font": "Liberation Sans", "fontSize": 26.5, "lineHeight": 31, "lineBreak": "\n", "align": "center", "baseline": "middle", "fill": "#000"},
 "encoding": {"theta": {"field": "mid", "type": "quantitative", "scale": {"domain": [0, 100]}}, "text": {"field": "label"}}}
]
}
